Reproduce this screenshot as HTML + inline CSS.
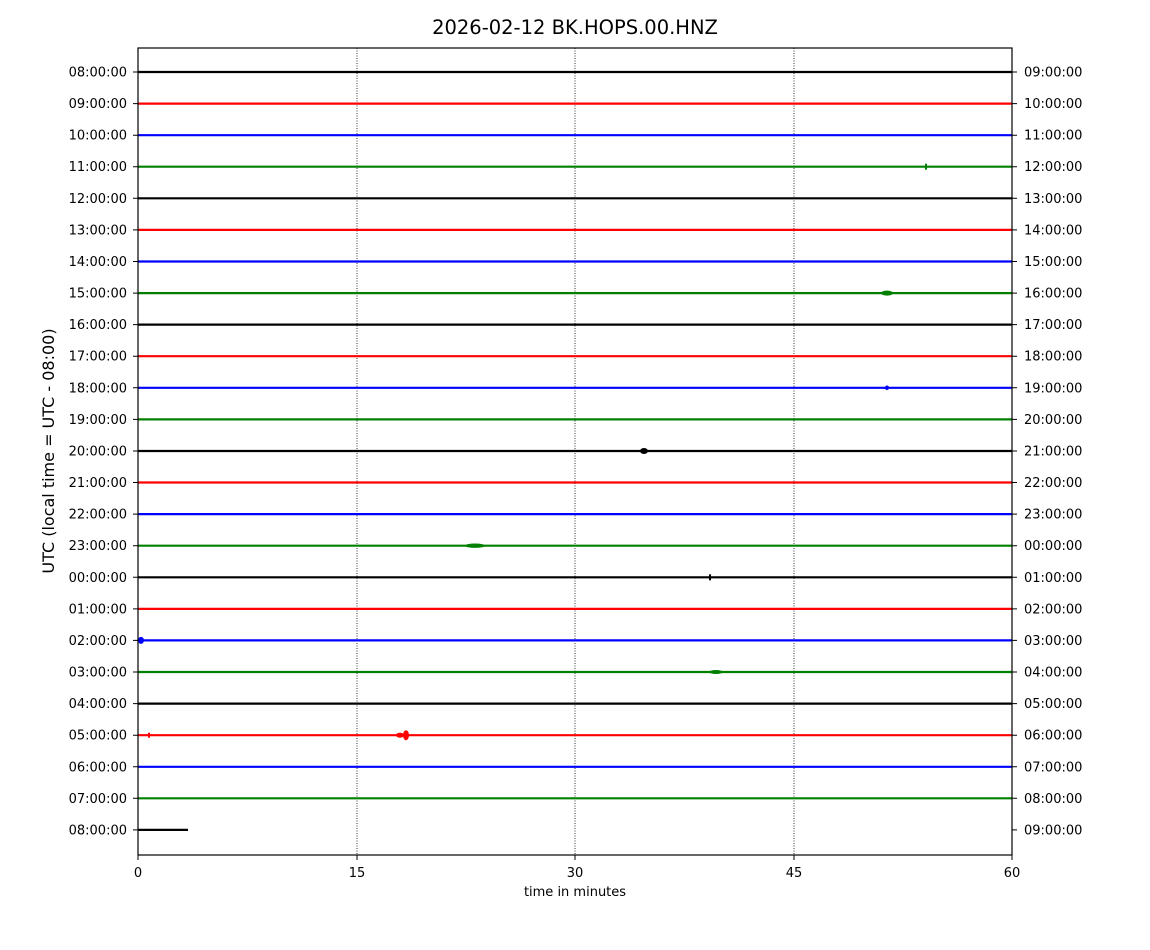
<!DOCTYPE html>
<html><head><meta charset="utf-8"><style>html,body{margin:0;padding:0;background:#fff}svg{display:block}text{font-family:"DejaVu Sans","Liberation Sans",sans-serif}</style></head>
<body>
<svg width="1150" height="950" viewBox="0 0 1150 950" xmlns="http://www.w3.org/2000/svg">
<rect width="1150" height="950" fill="#fff"/>
<text x="575" y="34" font-size="19.5" text-anchor="middle">2026-02-12 BK.HOPS.00.HNZ</text>
<g stroke="#000" stroke-width="0.8" stroke-dasharray="1,1.5">
<line x1="357" y1="48" x2="357" y2="855"/><line x1="575" y1="48" x2="575" y2="855"/><line x1="794" y1="48" x2="794" y2="855"/>
</g>
<g stroke-width="2.2">
<line x1="138" x2="1012" y1="72" y2="72" stroke="#000"/>
<line x1="138" x2="1012" y1="103.6" y2="103.6" stroke="#f00"/>
<line x1="138" x2="1012" y1="135.2" y2="135.2" stroke="#00f"/>
<line x1="138" x2="1012" y1="166.7" y2="166.7" stroke="#008000"/>
<line x1="138" x2="1012" y1="198.3" y2="198.3" stroke="#000"/>
<line x1="138" x2="1012" y1="229.9" y2="229.9" stroke="#f00"/>
<line x1="138" x2="1012" y1="261.5" y2="261.5" stroke="#00f"/>
<line x1="138" x2="1012" y1="293.1" y2="293.1" stroke="#008000"/>
<line x1="138" x2="1012" y1="324.6" y2="324.6" stroke="#000"/>
<line x1="138" x2="1012" y1="356.2" y2="356.2" stroke="#f00"/>
<line x1="138" x2="1012" y1="387.8" y2="387.8" stroke="#00f"/>
<line x1="138" x2="1012" y1="419.4" y2="419.4" stroke="#008000"/>
<line x1="138" x2="1012" y1="451" y2="451" stroke="#000"/>
<line x1="138" x2="1012" y1="482.5" y2="482.5" stroke="#f00"/>
<line x1="138" x2="1012" y1="514.1" y2="514.1" stroke="#00f"/>
<line x1="138" x2="1012" y1="545.7" y2="545.7" stroke="#008000"/>
<line x1="138" x2="1012" y1="577.3" y2="577.3" stroke="#000"/>
<line x1="138" x2="1012" y1="608.9" y2="608.9" stroke="#f00"/>
<line x1="138" x2="1012" y1="640.4" y2="640.4" stroke="#00f"/>
<line x1="138" x2="1012" y1="672" y2="672" stroke="#008000"/>
<line x1="138" x2="1012" y1="703.6" y2="703.6" stroke="#000"/>
<line x1="138" x2="1012" y1="735.2" y2="735.2" stroke="#f00"/>
<line x1="138" x2="1012" y1="766.8" y2="766.8" stroke="#00f"/>
<line x1="138" x2="1012" y1="798.3" y2="798.3" stroke="#008000"/>
<line x1="138" x2="188" y1="829.9" y2="829.9" stroke="#000"/>
</g>
<g>
<rect x="925" y="163.7" width="2" height="6" fill="#008000"/>
<ellipse cx="887" cy="293.1" rx="6" ry="2.5" fill="#008000"/>
<ellipse cx="887" cy="387.8" rx="2" ry="2.3" fill="#00f"/>
<ellipse cx="644" cy="451" rx="4" ry="3" fill="#000"/>
<ellipse cx="475" cy="545.7" rx="10" ry="2.2" fill="#008000"/>
<rect x="709" y="574.3" width="2" height="6" fill="#000"/>
<ellipse cx="141" cy="640.4" rx="3" ry="3.5" fill="#00f"/>
<ellipse cx="716" cy="672" rx="7" ry="2" fill="#008000"/>
<rect x="148" y="732.7" width="2" height="5" fill="#f00"/>
<ellipse cx="400" cy="735.2" rx="4" ry="2.5" fill="#f00"/>
<ellipse cx="406" cy="735.2" rx="3" ry="5" fill="#f00"/>
</g>
<rect x="138" y="48" width="874" height="807" fill="none" stroke="#000" stroke-width="1.2"/>
<g stroke="#000" stroke-width="1">
<line x1="138" x2="138" y1="855" y2="860"/><line x1="357" x2="357" y1="855" y2="860"/><line x1="575" x2="575" y1="855" y2="860"/><line x1="794" x2="794" y1="855" y2="860"/><line x1="1012" x2="1012" y1="855" y2="860"/>
<path d="M133 72h5M133 103.6h5M133 135.2h5M133 166.7h5M133 198.3h5M133 229.9h5M133 261.5h5M133 293.1h5M133 324.6h5M133 356.2h5M133 387.8h5M133 419.4h5M133 451h5M133 482.5h5M133 514.1h5M133 545.7h5M133 577.3h5M133 608.9h5M133 640.4h5M133 672h5M133 703.6h5M133 735.2h5M133 766.8h5M133 798.3h5M133 829.9h5"/>
<path d="M1012 72h5M1012 103.6h5M1012 135.2h5M1012 166.7h5M1012 198.3h5M1012 229.9h5M1012 261.5h5M1012 293.1h5M1012 324.6h5M1012 356.2h5M1012 387.8h5M1012 419.4h5M1012 451h5M1012 482.5h5M1012 514.1h5M1012 545.7h5M1012 577.3h5M1012 608.9h5M1012 640.4h5M1012 672h5M1012 703.6h5M1012 735.2h5M1012 766.8h5M1012 798.3h5M1012 829.9h5"/>
</g>
<g font-size="13" text-anchor="middle">
<text x="138" y="877">0</text><text x="357" y="877">15</text><text x="575" y="877">30</text><text x="794" y="877">45</text><text x="1012" y="877">60</text>
</g>
<text x="575" y="896" font-size="13" text-anchor="middle">time in minutes</text>
<text transform="translate(54,451) rotate(-90)" font-size="16" text-anchor="middle">UTC (local time = UTC - 08:00)</text>
<g font-size="13" text-anchor="end">
<text x="127" y="76.5">08:00:00</text><text x="127" y="108.1">09:00:00</text><text x="127" y="139.7">10:00:00</text><text x="127" y="171.2">11:00:00</text><text x="127" y="202.8">12:00:00</text><text x="127" y="234.4">13:00:00</text><text x="127" y="266">14:00:00</text><text x="127" y="297.6">15:00:00</text><text x="127" y="329.1">16:00:00</text><text x="127" y="360.7">17:00:00</text><text x="127" y="392.3">18:00:00</text><text x="127" y="423.9">19:00:00</text><text x="127" y="455.5">20:00:00</text><text x="127" y="487">21:00:00</text><text x="127" y="518.6">22:00:00</text><text x="127" y="550.2">23:00:00</text><text x="127" y="581.8">00:00:00</text><text x="127" y="613.4">01:00:00</text><text x="127" y="644.9">02:00:00</text><text x="127" y="676.5">03:00:00</text><text x="127" y="708.1">04:00:00</text><text x="127" y="739.7">05:00:00</text><text x="127" y="771.3">06:00:00</text><text x="127" y="802.8">07:00:00</text><text x="127" y="834.4">08:00:00</text>
</g>
<g font-size="13">
<text x="1024" y="76.5">09:00:00</text><text x="1024" y="108.1">10:00:00</text><text x="1024" y="139.7">11:00:00</text><text x="1024" y="171.2">12:00:00</text><text x="1024" y="202.8">13:00:00</text><text x="1024" y="234.4">14:00:00</text><text x="1024" y="266">15:00:00</text><text x="1024" y="297.6">16:00:00</text><text x="1024" y="329.1">17:00:00</text><text x="1024" y="360.7">18:00:00</text><text x="1024" y="392.3">19:00:00</text><text x="1024" y="423.9">20:00:00</text><text x="1024" y="455.5">21:00:00</text><text x="1024" y="487">22:00:00</text><text x="1024" y="518.6">23:00:00</text><text x="1024" y="550.2">00:00:00</text><text x="1024" y="581.8">01:00:00</text><text x="1024" y="613.4">02:00:00</text><text x="1024" y="644.9">03:00:00</text><text x="1024" y="676.5">04:00:00</text><text x="1024" y="708.1">05:00:00</text><text x="1024" y="739.7">06:00:00</text><text x="1024" y="771.3">07:00:00</text><text x="1024" y="802.8">08:00:00</text><text x="1024" y="834.4">09:00:00</text>
</g>
</svg>
</body></html>
